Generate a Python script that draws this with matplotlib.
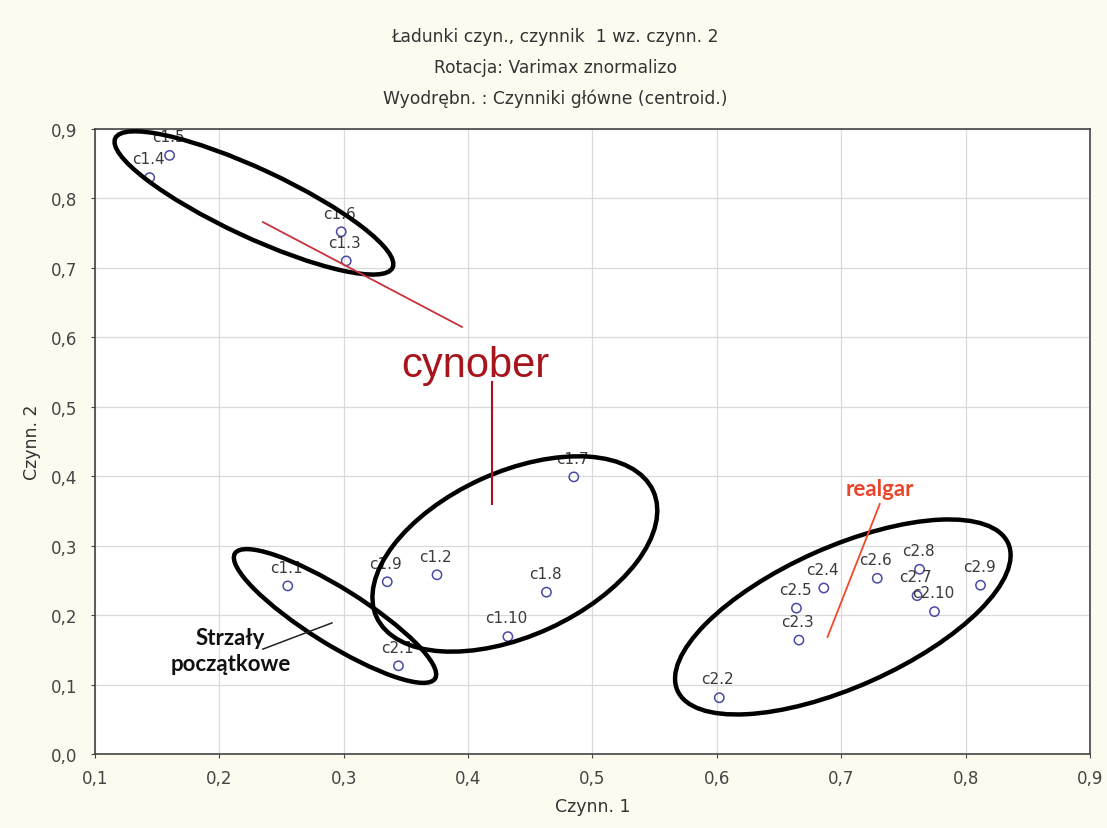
import matplotlib.pyplot as plt
import numpy as np
from matplotlib.patches import Ellipse
from matplotlib.transforms import ScaledTranslation
from matplotlib.ticker import FuncFormatter

plt.rcParams['font.family'] = ['DejaVu Sans']

names = ['c1.1', 'c1.2', 'c1.3', 'c1.4', 'c1.5', 'c1.6', 'c1.7', 'c1.8', 'c1.9', 'c1.10',
         'c2.1', 'c2.2', 'c2.3', 'c2.4', 'c2.5', 'c2.6', 'c2.7', 'c2.8', 'c2.9', 'c2.10']
czynn1 = [0.255, 0.375, 0.302, 0.144, 0.160, 0.298, 0.485, 0.463, 0.335, 0.432,
          0.344, 0.602, 0.666, 0.686, 0.664, 0.729, 0.761, 0.763, 0.812, 0.775]
czynn2 = [0.242, 0.258, 0.710, 0.830, 0.862, 0.752, 0.399, 0.233, 0.248, 0.169,
          0.127, 0.081, 0.164, 0.239, 0.210, 0.253, 0.228, 0.266, 0.243, 0.205]

# groups circled by hand: centre (data), half axes (px), angle (deg)
groups = [
    ((0.2278, 0.7935), 153, 34, -25),
    ((0.293, 0.1987), 118, 28, -32),
    ((0.4376, 0.288), 152, 82, 24.5),
    ((0.7013, 0.1973), 181, 70, 24),
]

fig = plt.figure(figsize=(11.07, 8.29), dpi=100)
fig.patch.set_facecolor('#fdfaf0')
ax = fig.add_axes([0.0858, 0.0893, 0.8988, 0.7539])
ax.set_facecolor('white')

ax.scatter(czynn1, czynn2, s=45, facecolors='none', edgecolors='#4a4aa8', linewidths=1.1, zorder=3)
for n, x, y in zip(names, czynn1, czynn2):
    ax.annotate(n, (x, y), xytext=(-1, 13.5), textcoords='offset points',
                ha='center', va='center', fontsize=11, color='#3a3a3a', zorder=4)

ax.set_xlim(0.1, 0.9)
ax.set_ylim(0.0, 0.9)
ax.set_xticks(np.arange(0.1, 0.91, 0.1))
ax.set_yticks(np.arange(0.0, 0.91, 0.1))
comma = FuncFormatter(lambda v, p: f'{v:.1f}'.replace('.', ','))
ax.xaxis.set_major_formatter(comma)
ax.yaxis.set_major_formatter(comma)
ax.tick_params(labelsize=12, colors='#444444', length=3, width=0.8)
ax.tick_params(axis='x', pad=8)
ax.tick_params(axis='y', pad=10)
ax.grid(True, color='#d9d9d9', linewidth=0.9)
ax.set_axisbelow(True)
for s in ax.spines.values():
    s.set_color('#444444')
    s.set_linewidth(1.2)

ax.set_xlabel('Czynn. 1', fontsize=12.5, color='#333333', labelpad=7)
ax.set_ylabel('Czynn. 2', fontsize=12.5, color='#333333', labelpad=7)

fig.text(0.5015, 0.955, 'Ładunki czyn., czynnik  1 wz. czynn. 2', ha='center', va='center', fontsize=12.3, color='#333333')
fig.text(0.5015, 0.918, 'Rotacja: Varimax znormalizo', ha='center', va='center', fontsize=12.3, color='#333333')
fig.text(0.5015, 0.881, 'Wyodrębn. : Czynniki główne (centroid.)', ha='center', va='center', fontsize=12.3, color='#333333')

for (cx, cy), a, b, ang in groups:
    tr = fig.dpi_scale_trans + ScaledTranslation(cx, cy, ax.transData)
    ax.add_patch(Ellipse((0, 0), 2 * a / 100, 2 * b / 100, angle=ang, transform=tr,
                         fill=False, edgecolor='black', linewidth=3.2, zorder=5))

# cynober
ax.plot([0.235, 0.395], [0.766, 0.615], color='#c8323a', linewidth=1.3, zorder=5)
ax.plot([0.419, 0.419], [0.536, 0.360], color='#b01020', linewidth=1.5, zorder=5)
ax.text(0.406, 0.560, 'cynober', fontsize=30, color='#a8141c', ha='center', va='center',
        family=['Liberation Sans', 'DejaVu Sans'], zorder=6)

# realgar
ax.plot([0.731, 0.689], [0.360, 0.1685], color='#f04a2a', linewidth=1.3, zorder=5)
ax.text(0.731, 0.382, 'realgar', fontsize=16, color='#e8452a', ha='center', va='center',
        fontweight='bold', family=['Lato', 'DejaVu Sans'], zorder=6)

# Strzały początkowe
ax.plot([0.235, 0.2905], [0.151, 0.1887], color='#222222', linewidth=1.1, zorder=5)
ax.text(0.209, 0.149, 'Strzały\npoczątkowe', fontsize=16, color='#111111', ha='center', va='center',
        fontweight='bold', linespacing=1.3, family=['Lato', 'DejaVu Sans'], zorder=6)

fig.savefig('out.png', dpi=100, facecolor=fig.get_facecolor())
